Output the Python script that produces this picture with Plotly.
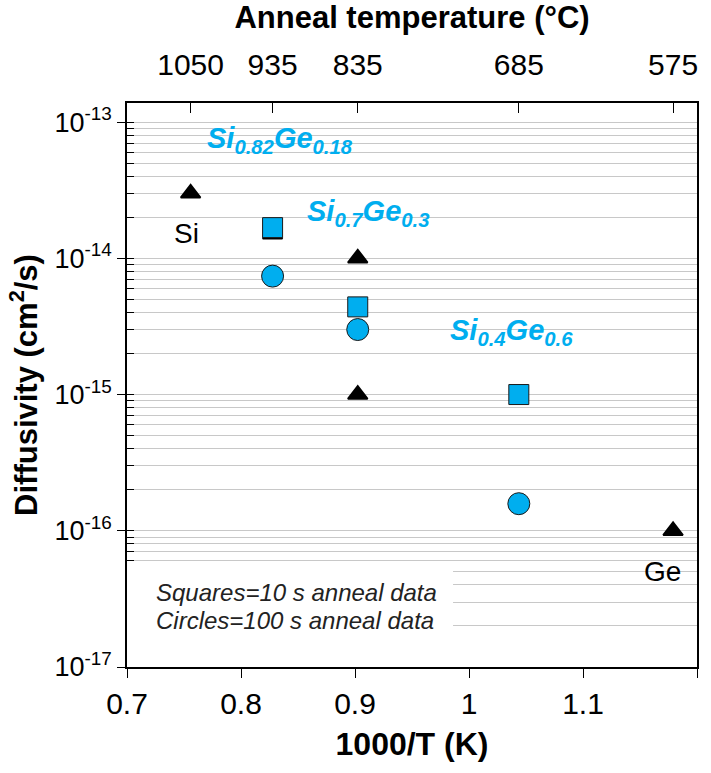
import plotly.graph_objects as go

# ---- data ----
anneal_temps_c = [1050, 935, 835, 685, 575]
temp_tick_labels = ["1050", "935", "835", "685", "575"]

tri_inv_T = [0.7558, 0.8277, 0.9024, 0.9024, 1.179]
tri_D = [3.0e-14, 1.5e-14, 1.0e-14, 1.0e-15, 1.0e-16]

sq_inv_T = [0.8277, 0.9024, 1.0437]
sq_D = [1.68e-14, 4.4e-15, 1.0e-15]

circ_inv_T = [0.8277, 0.9024, 1.0437]
circ_D = [7.4e-15, 3.0e-15, 1.58e-16]

y_tick_vals = [1e-17, 1e-16, 1e-15, 1e-14, 1e-13]
y_tick_text = ["10<sup>-17</sup>", "10<sup>-16</sup>", "10<sup>-15</sup>",
               "10<sup>-14</sup>", "10<sup>-13</sup>"]
x_tick_vals = [0.7, 0.8, 0.9, 1.0, 1.1, 1.2]
x_tick_text = ["0.7", "0.8", "0.9", "1", "1.1", "1.2"]

BLUE = "#00AEEF"
FONT = "Liberation Sans, Arial, sans-serif"

top_tick_vals = [1000.0 / (t + 273.15) for t in anneal_temps_c]

fig = go.Figure()
fig.add_trace(go.Scatter(x=tri_inv_T, y=tri_D, mode="markers",
                         marker=dict(symbol="triangle-up", size=17, color="black",
                                     line=dict(width=2, color="black")),
                         showlegend=False, hoverinfo="x+y"))
fig.add_trace(go.Scatter(x=sq_inv_T, y=sq_D, mode="markers",
                         marker=dict(symbol="square", size=20, color=BLUE,
                                     line=dict(width=1, color="#1a1a1a")),
                         showlegend=False))
fig.add_trace(go.Scatter(x=circ_inv_T, y=circ_D, mode="markers",
                         marker=dict(symbol="circle", size=22, color=BLUE,
                                     line=dict(width=1, color="#1a1a1a")),
                         showlegend=False))
# invisible trace to anchor the top temperature axis
fig.add_trace(go.Scatter(x=top_tick_vals, y=[1e-15] * len(top_tick_vals),
                         xaxis="x2", mode="markers", marker=dict(opacity=0),
                         showlegend=False, hoverinfo="skip"))

# white box behind the note text
fig.add_shape(type="rect", xref="x", yref="y", x0=0.7, x1=0.986,
              y0=1e-17, y1=10 ** -16.27, fillcolor="white",
              line=dict(width=0), layer="above")

ann = []
def lab(text, x, y, size, color="black", xanchor="center", yanchor="middle"):
    ann.append(dict(text=text, x=x, y=y, xref="x", yref="y", showarrow=False,
                    font=dict(family=FONT, size=size, color=color),
                    xanchor=xanchor, yanchor=yanchor))

lab("<b><i>Si<sub>0.82</sub>Ge<sub>0.18</sub></i></b>", 0.768, -13.13, 29, BLUE, "left")
lab("<b><i>Si<sub>0.7</sub>Ge<sub>0.3</sub></i></b>", 0.856, -13.67, 29, BLUE, "left")
lab("<b><i>Si<sub>0.4</sub>Ge<sub>0.6</sub></i></b>", 0.982, -14.54, 29, BLUE, "left")
lab("Si", 0.7526, -13.815, 28)
lab("Ge", 1.170, -16.30, 28)
lab("<i>Squares=10 s anneal data</i>", 0.724, -16.45, 24, "#222", "left")
lab("<i>Circles=100 s anneal data</i>", 0.724, -16.66, 24, "#222", "left")

fig.update_layout(
    width=711, height=773,
    margin=dict(l=127, r=14, t=103, b=106),
    paper_bgcolor="white", plot_bgcolor="white",
    font=dict(family=FONT, color="black"),
    annotations=ann,
    xaxis=dict(range=[0.7, 1.2], tickvals=x_tick_vals, ticktext=x_tick_text,
               ticks="outside", ticklen=9, tickwidth=1.2, tickcolor="black",
               showline=True, linecolor="black", linewidth=1.5, mirror=True,
               showgrid=False, zeroline=False, automargin=False,
               tickfont=dict(size=30),
               title=dict(text="<b>1000/T (K)</b>", font=dict(size=32), standoff=14)),
    xaxis2=dict(range=[0.7, 1.2], overlaying="x", side="top", anchor="y",
                tickvals=top_tick_vals, ticktext=temp_tick_labels,
                ticks="inside", ticklen=10, tickwidth=1.2, tickcolor="black",
                showline=True, linecolor="black", linewidth=1.5,
                showgrid=False, zeroline=False, automargin=False,
                ticklabelstandoff=14,
                tickfont=dict(size=30),
                title=dict(text="<b>Anneal temperature (°C)</b>", font=dict(size=31), standoff=11)),
    yaxis=dict(type="log", range=[-17, -12.86], tickvals=y_tick_vals, ticktext=y_tick_text,
               ticks="outside", ticklen=8, tickwidth=1.2, tickcolor="black",
               showline=True, linecolor="black", linewidth=1.5, mirror=True,
               showgrid=True, gridcolor="#c8c8c8", gridwidth=1.2, zeroline=False,
               automargin=False,
               tickfont=dict(size=27),
               minor=dict(dtick="D1", ticks="inside", ticklen=7, tickcolor="black",
                          tickwidth=1, showgrid=True, gridcolor="#c8c8c8", gridwidth=1.2),
               title=dict(text="<b>Diffusivity (cm<sup>2</sup>/s)</b>", font=dict(size=31), standoff=8)),
)

fig.write_html("out.html",
               config={"displayModeBar": False},
               post_script="document.body.style.margin='0';document.body.style.overflow='hidden';")
